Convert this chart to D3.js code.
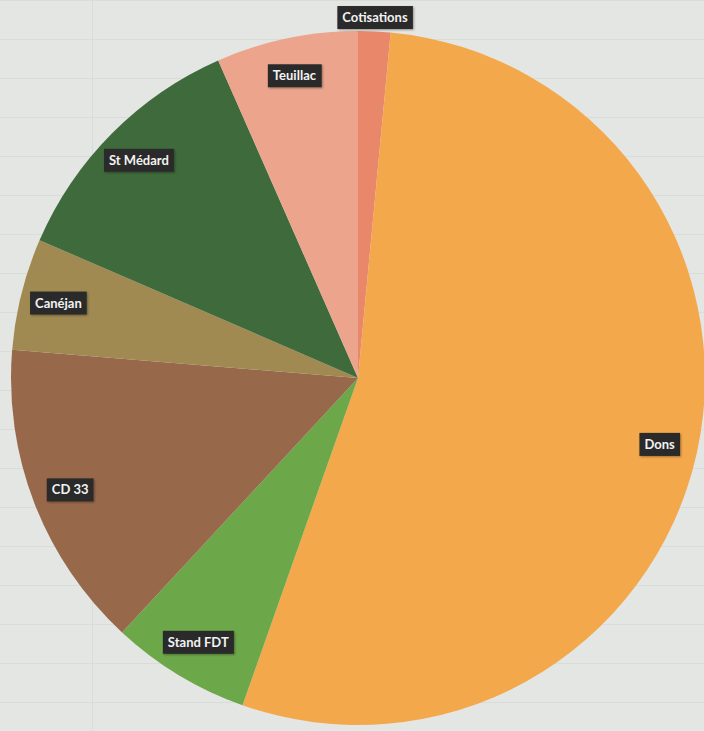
<!DOCTYPE html>
<html>
<head>
<meta charset="utf-8">
<script src="https://cdn.jsdelivr.net/npm/d3@7"></script>
<style>
  html, body { margin: 0; padding: 0; background: #e4e6e3; }
  svg { display: block; }
</style>
</head>
<body>
<div class="container"></div>
<script>
var w = 704;
var h = 731;

// slices clockwise from 12 o'clock (shares in %)
var categories = ["Cotisations", "Dons", "Stand FDT", "CD 33", "Canéjan", "St Médard", "Teuillac"];
var values = [1.5, 53.9, 6.5, 14.4, 5.2, 11.9, 6.6];
var colors = ["#e8876a", "#f4a84c", "#6ca84a", "#98684a", "#a18a52", "#3f6a3b", "#eca58c"];

var cx = 358, cy = 378, r = 347;

var svg = d3.select(".container").append("svg").attr("width", w).attr("height", h);

// faint table lines of the paper underneath
var rows = d3.range(0, h, 39);
svg.append("g").selectAll("line").data(rows).enter().append("line")
  .attr("x1", 0).attr("x2", w)
  .attr("y1", function(d) { return d + 0.5; })
  .attr("y2", function(d) { return d + 0.5; })
  .attr("stroke", "#dadcd9").attr("stroke-width", 1);
svg.append("line").attr("x1", 92.5).attr("x2", 92.5).attr("y1", 0).attr("y2", h)
  .attr("stroke", "#dadcd9");

var defs = svg.append("defs");
var f = defs.append("filter").attr("id", "shadow").attr("x", "-20%").attr("y", "-30%")
  .attr("width", "140%").attr("height", "160%");
f.append("feDropShadow").attr("dx", 1).attr("dy", 1).attr("stdDeviation", 1.2)
  .attr("flood-color", "#000").attr("flood-opacity", 0.35);

var data = categories.map(function(c, i) { return { name: c, value: values[i], color: colors[i] }; });

var pie = d3.pie().sort(null).value(function(d) { return d.value; });
var arcs = pie(data);

var arc = d3.arc().innerRadius(0).outerRadius(r);
var labelArc = d3.arc().innerRadius(r * 0.89).outerRadius(r * 0.89);
var outerLabelArc = d3.arc().innerRadius(r * 1.04).outerRadius(r * 1.04);

var g = svg.append("g").attr("transform", "translate(" + cx + "," + cy + ")");

g.selectAll("path").data(arcs).enter().append("path")
  .attr("d", arc)
  .attr("fill", function(d) { return d.data.color; });

var labels = g.selectAll("g.lbl").data(arcs).enter().append("g")
  .attr("class", "lbl")
  .attr("transform", function(d) {
    var p = d.data.value < 3 ? outerLabelArc.centroid(d) : labelArc.centroid(d);
    return "translate(" + p[0] + "," + p[1] + ")";
  });

labels.append("rect").attr("fill", "#2a2b29").attr("filter", "url(#shadow)");
labels.append("text")
  .attr("text-anchor", "middle")
  .attr("dy", "0.35em")
  .attr("fill", "#f2f2f2")
  .style("font-family", "Lato, 'Open Sans', sans-serif")
  .style("font-weight", "bold")
  .style("font-size", "13px")
  .text(function(d) { return d.data.name; });

labels.each(function() {
  var b = d3.select(this).select("text").node().getBBox();
  d3.select(this).select("rect")
    .attr("x", b.x - 5).attr("y", -11.5)
    .attr("width", b.width + 10).attr("height", 23);
});
</script>
</body>
</html>
